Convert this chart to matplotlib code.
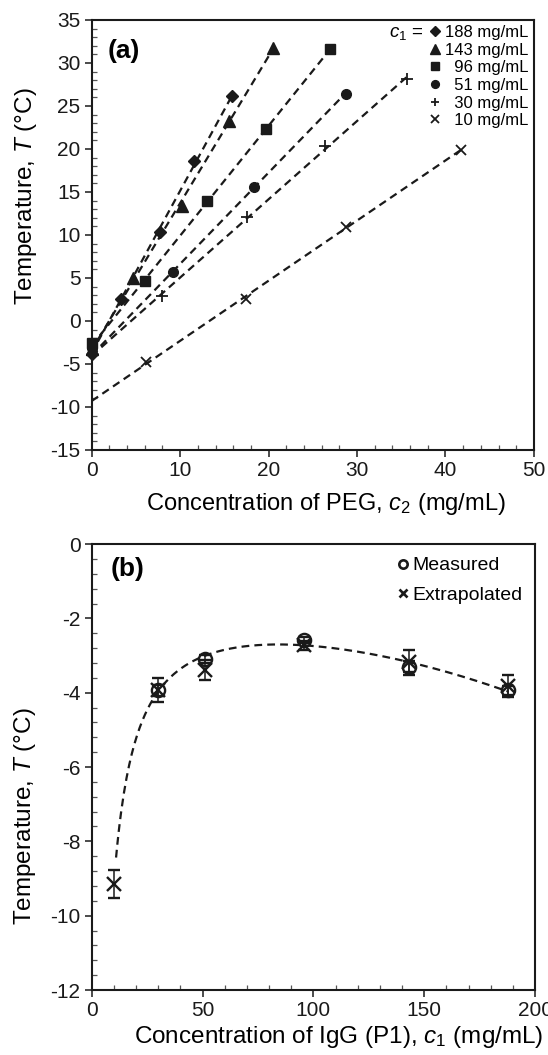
import numpy as np
import matplotlib
matplotlib.use("Agg")
import matplotlib.pyplot as plt
from matplotlib.lines import Line2D
from matplotlib.ticker import MultipleLocator

plt.rcParams['font.family'] = ['Liberation Sans', 'DejaVu Sans']
plt.rcParams['mathtext.fontset'] = 'custom'
plt.rcParams['mathtext.rm'] = 'Liberation Sans'
plt.rcParams['mathtext.it'] = 'Liberation Sans:italic'
plt.rcParams['axes.unicode_minus'] = False

# panel (a): T vs PEG concentration for each IgG concentration
labels_a = ['188 mg/mL', '143 mg/mL', '  96 mg/mL', '  51 mg/mL', '  30 mg/mL', '  10 mg/mL']
markers_a = ['D', '^', 's', 'o', '+', 'x']
msize_a = [6.5, 9, 7.5, 7, 8, 7.5]
c2_188 = [3.3, 7.7, 11.6, 15.9]
T_188 = [2.6, 10.4, 18.6, 26.1]
c2_143 = [4.7, 10.2, 15.5, 20.5]
T_143 = [5.0, 13.4, 23.3, 31.7]
c2_96 = [6.0, 13.0, 19.7, 27.0]
T_96 = [4.7, 13.9, 22.3, 31.6]
c2_51 = [9.2, 18.3, 28.7]
T_51 = [5.7, 15.6, 26.4]
c2_30 = [7.9, 17.6, 26.4, 35.7]
T_30 = [2.9, 12.1, 20.4, 28.1]
c2_10 = [6.1, 17.5, 28.7, 41.7]
T_10 = [-4.8, 2.5, 10.9, 19.9]
# intercepts at c2 = 0 (None: not shown)
T0_a = [-3.9, -3.3, -2.6, -3.1, -4.0, None]

# panel (b): cloud point temperature at c2 = 0
c1_meas = [30, 51, 96, 143, 188]
T_meas = [-3.94, -3.09, -2.58, -3.30, -3.93]
err_meas = [0.15, 0.1, 0.08, 0.15, 0.12]
c1_extr = [10, 30, 51, 96, 143, 188]
T_extr = [-9.15, -3.92, -3.38, -2.72, -3.18, -3.82]
err_extr = [0.38, 0.32, 0.27, 0.12, 0.33, 0.3]

ink = '#1a1a1a'
dash = (3.5, 2.3)

fig = plt.figure(figsize=(5.48, 10.55), dpi=100)
axa = fig.add_axes([0.1673, 0.5735, 0.807, 0.4076])
axb = fig.add_axes([0.1673, 0.0616, 0.809, 0.4227])

xs_a = [c2_188, c2_143, c2_96, c2_51, c2_30, c2_10]
ys_a = [T_188, T_143, T_96, T_51, T_30, T_10]
handles = []
for x, y, m, ms, t0, lab in zip(xs_a, ys_a, markers_a, msize_a, T0_a, labels_a):
    k, b = np.polyfit(x, y, 1)
    xl = np.array([0, max(x)])
    axa.plot(xl, k * xl + b, color=ink, lw=1.6, dashes=dash, zorder=2)
    mew = 1.3 if m in '+x' else 1
    xp = list(x)
    yp = list(y)
    if t0 is not None:
        xp = [0] + xp
        yp = [t0] + yp
    axa.plot(xp, yp, ls='none', marker=m, ms=ms, color=ink, mew=mew, zorder=3, clip_on=False)
    handles.append(Line2D([], [], ls='none', marker=m, ms=ms * 0.8, color=ink, mew=mew, label=lab))

axa.set_xlim(0, 50)
axa.set_ylim(-15, 35)
axa.xaxis.set_major_locator(MultipleLocator(10))
axa.xaxis.set_minor_locator(MultipleLocator(2))
axa.yaxis.set_major_locator(MultipleLocator(5))
axa.yaxis.set_minor_locator(MultipleLocator(1))
axa.set_xlabel('Concentration of PEG, $c_2$ (mg/mL)', fontsize=17)
axa.set_ylabel('Temperature, $T$ (°C)', fontsize=17.5)
axa.xaxis.set_label_coords(0.53, -0.095)
axa.yaxis.set_label_coords(-0.12, 0.59)
axa.text(0.035, 0.928, '(a)', transform=axa.transAxes, fontsize=19, fontweight='bold', va='center')
leg = axa.legend(handles=handles, loc='upper right', frameon=False, fontsize=12,
                 handlelength=0.8, handletextpad=0.25, labelspacing=0.16,
                 borderaxespad=0.2, borderpad=0.1)
axa.text(0.75, 0.968, '$c_1$ =', transform=axa.transAxes, fontsize=13.5, ha='right', va='center')

# panel (b)
c1_fit = [c1_extr[0]] + c1_meas
T_fit = [T_extr[0]] + T_meas
cc = np.array(c1_fit, dtype=float)
A = np.column_stack([np.ones_like(cc), cc, cc ** 2, 1 / cc])
coef = np.linalg.lstsq(A, np.array(T_fit), rcond=None)[0]
cf = np.linspace(11, 188, 300)
Af = np.column_stack([np.ones_like(cf), cf, cf ** 2, 1 / cf])
axb.plot(cf, Af @ coef, color=ink, lw=1.6, dashes=dash, zorder=2)

axb.errorbar(c1_meas, T_meas, yerr=err_meas, ls='none', marker='o', ms=9.5, mfc='none',
             mec=ink, mew=1.7, ecolor=ink, elinewidth=1.1, capsize=4, capthick=1.1, zorder=3)
axb.errorbar(c1_extr, T_extr, yerr=err_extr, ls='none', marker='x', ms=9.5,
             mec=ink, mew=1.7, ecolor=ink, elinewidth=1.1, capsize=4, capthick=1.1, zorder=3)
hb = [Line2D([], [], ls='none', marker='o', ms=6, mfc='none', mec=ink, mew=1.9, label='Measured'),
      Line2D([], [], ls='none', marker='x', ms=6, mec=ink, mew=1.9, label='Extrapolated')]
axb.legend(handles=hb, loc='upper right', frameon=False, fontsize=14,
           handlelength=0.5, handletextpad=0.2, labelspacing=0.6,
           borderaxespad=0.45, borderpad=0.2)

axb.set_xlim(0, 200)
axb.set_ylim(-12, 0)
axb.xaxis.set_major_locator(MultipleLocator(50))
axb.xaxis.set_minor_locator(MultipleLocator(10))
axb.yaxis.set_major_locator(MultipleLocator(2))
axb.yaxis.set_minor_locator(MultipleLocator(0.4))
axb.set_xlabel('Concentration of IgG (P1), $c_1$ (mg/mL)', fontsize=17.5)
axb.set_ylabel('Temperature, $T$ (°C)', fontsize=17.5)
axb.xaxis.set_label_coords(0.558, -0.077)
axb.yaxis.set_label_coords(-0.12, 0.39)
axb.text(0.043, 0.945, '(b)', transform=axb.transAxes, fontsize=19, fontweight='bold', va='center')

for ax in (axa, axb):
    for s in ax.spines.values():
        s.set_linewidth(1.5)
        s.set_color(ink)
    ax.tick_params(which='major', direction='out', length=5, width=1.1, labelsize=15,
                   colors=ink, pad=3)
    ax.tick_params(which='minor', direction='in', length=3.5, width=0.9, colors='#555555')

fig.savefig('out.png', dpi=100)
